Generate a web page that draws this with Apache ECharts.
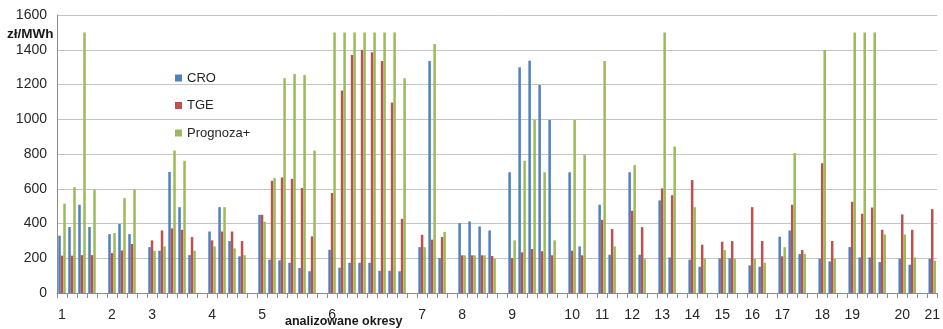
<!DOCTYPE html>
<html>
<head>
<meta charset="utf-8">
<script src="https://cdn.jsdelivr.net/npm/echarts@6/dist/echarts.min.js"></script>
<style>html,body{margin:0;padding:0;background:#fff}#c{width:943px;height:329px}</style>
</head>
<body>
<div id="c"></div>
<script>
const periods = ['1','2','3','4','5','6','7','8','9','10','11','12','13','14','15','16','17','18','19','20','21'];
const cro = [[330,380,508,380],[339,397,339],[264,243,697,494,218],[354,494,299,211],[450,192,188,174,144,125],[249,146,174,174,174,128,128,125],[264,1335,201],[402,412,383,360],[695,1299,1337,1197,996],[695,268],[508,220],[695,220],[533,205],[192,151],[199,199],[159,151],[324,360,224],[197,182],[264,205,205,178],[197,163],[197]];
const tge = [[215,215,218,218],[230,245,282],[303,360,372,364,322],[303,354,354,299],[450,646,665,657,604,326],[575,1165,1370,1399,1385,1335,1096,427],[335,307,322],[217,217,217,213],[201,234,253,240,217],[243,217],[421,368],[473,379],[602,563],[650,278],[295,299],[494,299],[211,508,247],[747,299],[525,456,492,364],[452,364],[483]];
const prognoza = [[514,609,1500,594],[345,546,594],[243,268,820,761,243],[268,494,257,218],[410,661,1236,1261,1255,820],[1500,1500,1500,1500,1500,1500,1500,1236],[264,1433,351],[217,217,217,197],[303,761,996,695,303],[996,795],[1335,268],[736,197],[1500,843],[494,197],[247,197],[197,174],[264,805,226],[1399,197],[1500,1500,1500,337],[337,205],[186]];
const seriesNames = ['CRO','TGE','Prognoza+'];
const yTicks = [0,200,400,600,800,1000,1200,1400,1600];

// build flat categories with one empty slot between periods
const cats = [], labels = [], dCro = [], dTge = [], dProg = [];
periods.forEach((p, i) => {
  cro[i].forEach((v, k) => {
    cats.push(p + '-' + (k + 1));
    labels.push(k === 0 ? p : '');
    dCro.push(v); dTge.push(tge[i][k]); dProg.push(prognoza[i][k]);
  });
  if (i < periods.length - 1) {
    cats.push(p + '-gap'); labels.push('');
    dCro.push(null); dTge.push(null); dProg.push(null);
  }
});

const font = 'Liberation Sans, Arial, sans-serif';
const chart = echarts.init(document.getElementById('c'), null, {renderer: 'canvas'});
const barBase = {type: 'bar', barGap: '0%', barCategoryGap: '25%', animation: false};
chart.setOption({
  animation: false,
  textStyle: {fontFamily: font},
  grid: {left: 57, right: 3, top: 15, bottom: 36, containLabel: false},
  legend: {
    data: seriesNames, orient: 'vertical', left: 170, top: 66,
    itemWidth: 7, itemHeight: 7, itemGap: 13.5, icon: 'rect',
    textStyle: {fontSize: 13, color: '#262626', fontFamily: font, lineHeight: 14}
  },
  xAxis: {
    type: 'category', data: cats,
    axisLine: {lineStyle: {color: '#8c8c8c'}},
    axisTick: {show: true, interval: 0, length: 5, lineStyle: {color: '#8c8c8c'}},
    axisLabel: {interval: 0, margin: 15, fontSize: 14, color: '#262626',
      formatter: (v, idx) => labels[idx]},
    splitLine: {show: false}
  },
  yAxis: {
    type: 'value', min: yTicks[0], max: yTicks[yTicks.length - 1], interval: 200,
    axisLine: {show: true, lineStyle: {color: '#8c8c8c'}},
    axisTick: {show: false},
    axisLabel: {fontSize: 14, color: '#262626', margin: 10, formatter: v => String(v)},
    splitLine: {lineStyle: {color: '#c4c4c4', width: 1}}
  },
  graphic: [
    {type: 'text', left: 7, top: 27, style: {text: 'zł/MWh', font: 'bold 13.5px ' + font, fill: '#1a1a1a'}},
    {type: 'text', left: 285, top: 315, style: {text: 'analizowane okresy', font: 'bold 12.5px ' + font, fill: '#1a1a1a'}}
  ],
  series: [
    Object.assign({}, barBase, {name: 'CRO', data: dCro, itemStyle: {color: '#4f81bd'}}),
    Object.assign({}, barBase, {name: 'TGE', data: dTge, itemStyle: {color: '#c0504d'}}),
    Object.assign({}, barBase, {name: 'Prognoza+', data: dProg, itemStyle: {color: '#9bbb59'}})
  ]
});
</script>
</body>
</html>
